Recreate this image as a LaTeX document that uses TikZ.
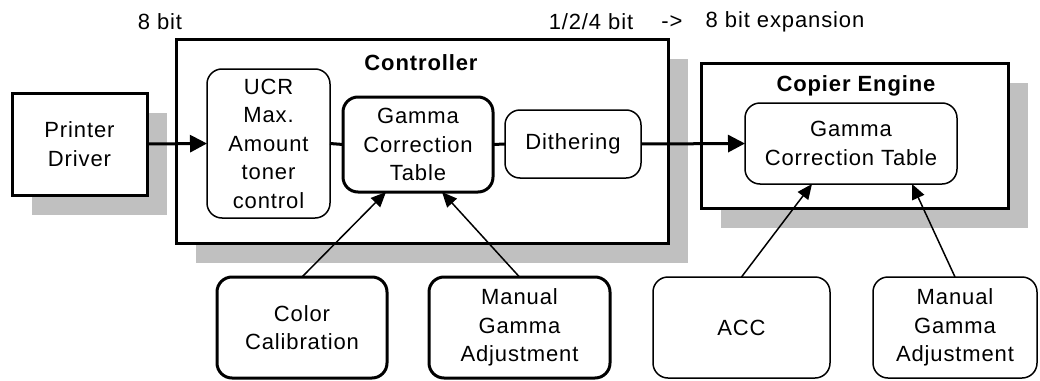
\documentclass[tikz,border=0pt]{standalone}
\usepackage{fontspec}
\setmainfont{Liberation Sans}[LetterSpace=4]
\usetikzlibrary{arrows.meta,calc}

\definecolor{shade}{RGB}{192,192,192}
\newcommand{\labelsize}{\fontsize{22}{28.5}\selectfont}

\tikzset{
  box/.style={draw=black, fill=white, inner sep=0pt, outer sep=0pt, align=center},
  heavybox/.style={box, line width=3pt},
  lightbox/.style={box, line width=1.5pt},
  roundheavy/.style={heavybox, rounded corners=15pt},
  roundlight/.style={lightbox, rounded corners=15pt},
  shadow/.style={fill=shade, draw=none},
  flow/.style={line width=3pt, -{Triangle[length=17pt,width=17pt]}},
  link/.style={line width=3pt},
  feed/.style={line width=1.5pt, -{Triangle[length=15pt,width=13pt]}},
  caption/.style={inner sep=0pt, outer sep=0pt},
  title/.style={caption, font=\labelsize\bfseries}
}

\begin{document}
\begin{tikzpicture}[x=1pt, y=-1pt, font=\labelsize]
\useasboundingbox (0,0) rectangle (1040,380);

% drop shadows of the three outer blocks
\fill[shadow] (32,113) rectangle (167,215);
\fill[shadow] (196,59) rectangle (688,263);
\fill[shadow] (721,83) rectangle (1028,228);

% outer blocks
\node[heavybox, minimum width=135pt, minimum height=102pt] (driver) at (79.5,144) {Printer\\Driver};
\node[heavybox, minimum width=492pt, minimum height=204pt] (ctrl) at (422,141) {};
\node[heavybox, minimum width=307pt, minimum height=145pt] (copier) at (854.5,135.5) {};

\node[title] (ctrltitle) at (421,63) {Controller};
\node[title] (copiertitle) at (856,86) {Copier Engine};

% stages inside the controller
\node[roundlight, minimum width=123pt, minimum height=149pt] (ucr) at (268.5,143.5) {UCR\\Max.\\Amount\\toner\\control};
\node[roundheavy, minimum width=150pt, minimum height=95pt] (gamma1) at (418,144.5) {Gamma\\Correction\\Table};
\node[roundlight, minimum width=136pt, minimum height=68pt] (dither) at (573,144) {Dithering};

% stage inside the copier engine
\node[roundlight, minimum width=212pt, minimum height=81pt] (gamma2) at (851,143.5) {Gamma\\Correction Table};

% adjustment sources
\node[roundheavy, minimum width=170pt, minimum height=101pt] (colorcal) at (302,327.5) {Color\\Calibration};
\node[roundheavy, minimum width=181pt, minimum height=101pt] (manual1) at (519.5,327.5) {Manual\\Gamma\\Adjustment};
\node[roundlight, minimum width=177pt, minimum height=101pt] (acc) at (741.5,327.5) {ACC};
\node[roundlight, minimum width=164pt, minimum height=101pt] (manual2) at (955,327.5) {Manual\\Gamma\\Adjustment};

% bit depth labels
\node[caption] (bits8) at (160,22) {8 bit};
\node[caption] (bits124) at (591,22) {1/2/4 bit};
\node[caption] (bitsarrow) at (672,22) {->};
\node[caption] (bitsexp) at (785,22) {8 bit expansion};

% data path
\draw[flow] (driver.east) -- (ucr.west);
\draw[link] (ucr.east) -- (gamma1.west);
\draw[link] (gamma1.east) -- (dither.west);
\draw[flow] (dither.east) -- (gamma2.west);

% adjustment inputs
\draw[feed] (colorcal.north) -- ([xshift=-32pt]gamma1.south);
\draw[feed] (manual1.north) -- ([xshift=24pt]gamma1.south);
\draw[feed] (acc.north) -- ([xshift=-39pt]gamma2.south);
\draw[feed] (manual2.north) -- ([xshift=61pt]gamma2.south);
\end{tikzpicture}
\end{document}
